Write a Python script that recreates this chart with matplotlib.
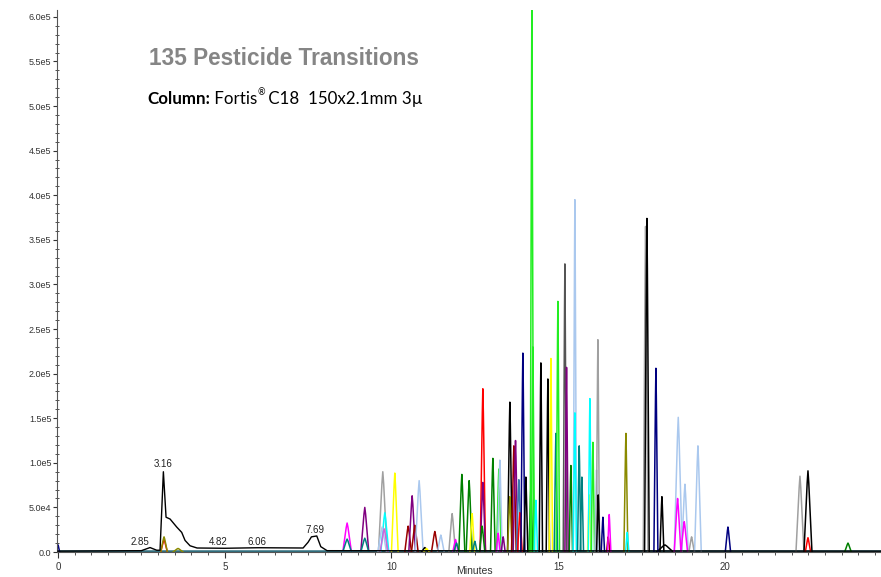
import matplotlib
matplotlib.use("Agg")
import matplotlib.pyplot as plt
from matplotlib.ticker import FixedLocator, MultipleLocator, FuncFormatter

# background (black) trace with the labelled solvent/early peaks
tic_time = [0.0, 2.5, 2.76, 2.96, 3.06, 3.16, 3.24, 3.36, 3.56, 3.71, 3.81, 3.96,
            4.17, 5.0, 6.0, 7.35, 7.5, 7.6, 7.76, 7.88, 8.07, 24.7]
tic_counts = [1000, 1500, 5000, 2000, 2000, 90000, 39000, 37000, 28000, 22000, 13000, 7000,
              4500, 4200, 4800, 4500, 11000, 17000, 18000, 6000, 1500, 1000]

label_text = ["2.85", "3.16", "4.82", "6.06", "7.69"]
label_time = [2.46, 3.16, 4.80, 5.97, 7.70]
label_counts = [5500, 93000, 5500, 5500, 19500]

# individual transitions: retention time (min), apex counts, half base width (min), trace
peak_rt = [0.0, 3.18, 3.18, 3.6, 8.67, 8.67, 9.2, 9.2, 9.74, 9.8, 9.72, 9.78,
           10.1, 10.5, 10.62, 10.7, 10.83, 11.0, 11.05, 11.3, 11.48, 11.82, 11.92, 11.95,
           12.11, 12.33, 12.42, 12.5, 12.74, 12.74, 12.72, 13.04, 13.22, 13.25, 13.2, 13.35,
           13.55, 13.55, 13.67, 13.72, 13.82, 13.85, 13.94, 14.03, 14.18, 14.21, 14.24, 14.33,
           14.48, 14.69, 14.78, 14.93, 14.99, 15.2, 15.25, 15.38, 15.5, 15.5, 15.63, 15.71,
           15.93, 15.95, 16.04, 16.15, 16.19, 16.2, 16.34, 16.5, 16.53, 17.03, 17.07,
           17.62, 17.66, 18.2, 17.93, 18.11, 18.6, 18.8, 18.58, 18.78, 19.0, 19.19, 20.09,
           22.25, 22.49, 22.49, 23.69]
peak_height = [8000, 14000, 17000, 4000, 32500, 14500, 50000, 15500, 90000, 44000, 28000, 26000,
               88500, 29000, 63000, 30000, 80000, 5000, 4000, 23000, 19000, 43000, 14000, 10000,
               87000, 80000, 43000, 12000, 183000, 78000, 29000, 105000, 93000, 103000, 21000, 17000,
               168000, 62000, 119000, 125000, 81000, 44000, 223000, 84000, 72000, 610000, 230000, 58000,
               212000, 194000, 217000, 133000, 281000, 323000, 207000, 97000, 395000, 156000, 119000, 84000,
               64000, 172000, 123000, 92000, 238000, 64000, 39000, 17000, 42000, 133000, 22000,
               365000, 374000, 8000, 206000, 62000, 151000, 76000, 60000, 34000, 17000, 119000, 28000,
               85000, 91000, 16000, 10000]
peak_halfwidth = [0.05, 0.1, 0.1, 0.15, 0.13, 0.13, 0.12, 0.12, 0.13, 0.12, 0.13, 0.12,
                  0.1, 0.1, 0.1, 0.1, 0.12, 0.1, 0.08, 0.1, 0.1, 0.1, 0.08, 0.08,
                  0.09, 0.09, 0.07, 0.07, 0.08, 0.08, 0.08, 0.07, 0.07, 0.07, 0.06, 0.06,
                  0.07, 0.07, 0.07, 0.07, 0.07, 0.07, 0.06, 0.06, 0.06, 0.05, 0.05, 0.05,
                  0.05, 0.05, 0.05, 0.05, 0.05, 0.05, 0.05, 0.05, 0.05, 0.05, 0.05, 0.05,
                  0.05, 0.05, 0.05, 0.05, 0.05, 0.05, 0.05, 0.05, 0.05, 0.06, 0.05,
                  0.07, 0.07, 0.25, 0.06, 0.06, 0.12, 0.1, 0.1, 0.1, 0.08, 0.1, 0.08,
                  0.12, 0.12, 0.08, 0.1]
peak_trace = ["navy", "red", "olive", "olive", "magenta", "teal", "purple", "teal", "gray", "cyan", "lsb", "plum",
              "yellow", "darkred", "purple", "darkred", "lsb", "black", "yellow", "darkred", "lsb", "gray", "magenta", "teal",
              "dgreen", "dgreen", "yellow", "teal", "red", "purple", "dgreen", "dgreen", "lime", "lsb", "magenta", "purple",
              "black", "olive", "darkred", "purple", "steel", "red", "navy", "black", "dgreen", "lime", "lime", "cyan",
              "black", "black", "yellow", "teal", "lime", "dgray", "purple", "dgreen", "lsb", "cyan", "teal", "teal",
              "yellow", "cyan", "lime", "lsb", "gray", "black", "navy", "darkred", "magenta", "olive", "cyan",
              "gray", "black", "black", "navy", "black", "lsb", "lsb", "magenta", "magenta", "gray", "lsb", "navy",
              "gray", "black", "red", "dgreen"]

trace_colors = {"navy": "#000080", "red": "#ff0000", "olive": "#8a8a00", "magenta": "#ff00ff",
                "teal": "#008080", "purple": "#800080", "gray": "#a0a0a0", "cyan": "#00ffff",
                "lsb": "#aac8ee", "plum": "#cc66dd", "yellow": "#ffff00", "darkred": "#990000",
                "black": "#000000", "dgreen": "#008000", "lime": "#22ee22", "steel": "#3a7ab0",
                "dgray": "#555555"}

fig = plt.figure(figsize=(8.81, 5.77), dpi=100)
ax = fig.add_axes([0.0647, 0.0433, 0.9353, 0.9394])

ax.axhline(600, color="#2f6f7f", lw=1.8, zorder=1)
for rt, h, w, tr in zip(peak_rt, peak_height, peak_halfwidth, peak_trace):
    ax.plot([rt - w, rt - 0.2 * w, rt, rt + 0.2 * w, rt + w],
            [0, 0.85 * h, h, 0.85 * h, 0], color=trace_colors[tr], lw=1.1, zorder=2)
ax.plot(tic_time, tic_counts, color="black", lw=1.0, zorder=3)

for txt, t, c in zip(label_text, label_time, label_counts):
    ax.text(t, c, txt, ha="center", va="bottom", fontsize=7, family="Liberation Sans", color="#222222")

ax.set_xlim(-0.03, 24.68)
ax.set_ylim(0, 6.077e5)
for s in ["top", "right"]:
    ax.spines[s].set_visible(False)
ax.spines["left"].set_color("#555555")
ax.spines["bottom"].set_color("#555555")

ax.yaxis.set_major_locator(MultipleLocator(5e4))
ax.yaxis.set_minor_locator(MultipleLocator(1e4))

def yfmt(v, pos):
    if v == 0:
        return "0.0"
    s = "%.1e" % v
    m, e = s.split("e")
    return m + "e" + str(int(e))

ax.yaxis.set_major_formatter(FuncFormatter(yfmt))
ax.xaxis.set_major_locator(FixedLocator([0, 5, 10, 15, 20]))
ax.xaxis.set_minor_locator(MultipleLocator(0.5))
ax.tick_params(axis="y", which="major", direction="out", length=3, width=0.8, pad=1,
               labelsize=6.5, labelcolor="#333333", color="#333333")
ax.tick_params(axis="y", which="minor", direction="inout", length=3, width=0.6, color="#333333")
ax.tick_params(axis="x", which="major", direction="out", length=4, width=0.8, pad=3,
               labelsize=7, labelcolor="#333333", color="#333333")
ax.tick_params(axis="x", which="minor", direction="out", length=2.5, width=0.6, color="#333333")
for lab in ax.get_xticklabels() + ax.get_yticklabels():
    lab.set_family("Liberation Sans")

fig.text(0.538, 0.001, "Minutes", ha="center", va="bottom", fontsize=7.5,
         family="Liberation Sans", color="#333333")

fig.text(0.3225, 0.898, "135 Pesticide Transitions", ha="center", va="center",
         fontsize=16.3, family="Liberation Sans", weight="bold", color="#858585")
t1 = fig.text(0.167, 0.828, "Column:", ha="left", va="center", fontsize=12.2, family="Lato",
              weight="bold", color="black")
t2 = ax.annotate(" Fortis", xy=(1, 0.5), xycoords=t1, ha="left", va="center",
                 fontsize=12.2, family="Lato", color="black")
t3 = ax.annotate("\u00ae", xy=(1, 0.62), xycoords=t2, ha="left", va="bottom",
                 fontsize=6.5, family="Lato", color="black")
ax.annotate(" C18  150x2.1mm 3\u00b5", xy=(1, 0.5), xycoords=t2, xytext=(5, 0),
            textcoords="offset points", ha="left", va="center",
            fontsize=12.2, family="Lato", color="black")

fig.savefig("out.png", dpi=100)
